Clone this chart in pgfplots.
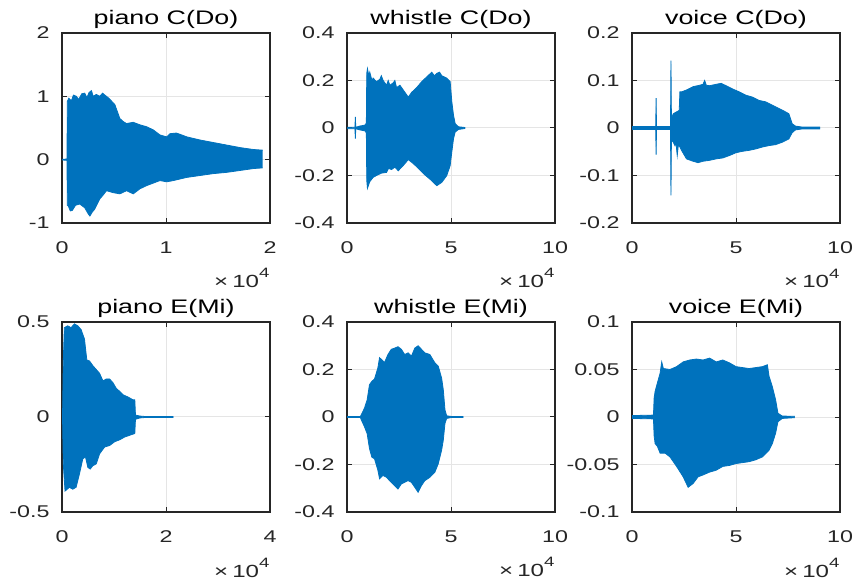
\documentclass[border=0pt]{standalone}
\usepackage{fontspec}
\setmainfont{Liberation Sans}
\usepackage{pgfplots}
\pgfplotsset{compat=1.18}
\usepgfplotslibrary{fillbetween}
\definecolor{mblue}{RGB}{0,114,189}

\pgfplotsset{
  every axis title shift=0pt,
  mat/.style={
    scale only axis, width=104pt, height=95pt, anchor=north west,
    axis line style={black!85, line width=0.6pt},
    tick style={black!85, line width=0.5pt},
    major tick length=2.5pt, tick align=inside,
    grid=major, major grid style={black!10, line width=0.5pt},
    scaled x ticks=false, scaled y ticks=false,
    /pgf/number format/assume math mode=true,
    ticklabel style={font=\fontsize{8.5}{10}\selectfont, text=black!85, xscale=1.37},
    xticklabel style={yshift=-6pt},
    yticklabel style={xshift=-1pt},
    title style={font=\fontsize{9.8}{12}\selectfont, xscale=1.37, at={(0.5,1)}, anchor=base, yshift=4.25pt},
    xlabel={×\,10\raisebox{5pt}{\fontsize{6.8}{8}\selectfont 4}},
    xlabel style={font=\fontsize{8.8}{10}\selectfont, xscale=1.37, text=black!85, at={(1,0)}, anchor=base east, yshift=-32.5pt, inner sep=0pt},
    xmin=0,
  },
  wave/.style={draw=mblue, line width=0.4pt, forget plot},
  wfill/.style={fill=mblue, draw=none, forget plot},
}

\begin{document}
\begin{tikzpicture}

% piano C
\begin{axis}[mat, at={(31pt,272.5pt)}, title={piano C(Do)},
  xmax=20000, xtick={0,10000,20000}, xticklabels={0,1,2},
  ymin=-1, ymax=2, ytick={-1,0,1,2}, yticklabels={-1,0,1,2}]
\addplot[wave, name path=u] coordinates {(0,0.005) (480,0.01) (514,0.92) (650,0.97) (900,0.93) (1100,1.02) (1383,1.0) (1600,0.95) (1900,1.04) (2186,1.05) (2400,0.98) (2600,1.06) (2830,1.09) (3000,1.0) (3300,1.03) (3633,1.0) (3900,1.05) (4116,1.02) (4500,0.97) (5080,0.87) (5563,0.65) (5900,0.6) (6206,0.57) (6849,0.59) (7492,0.55) (8135,0.52) (8778,0.47) (9421,0.39) (10064,0.36) (10386,0.41) (11000,0.42) (11350,0.40) (11994,0.36) (13280,0.31) (14566,0.27) (15852,0.23) (17138,0.19) (18424,0.16) (19293,0.15)};
\addplot[wave, name path=l] coordinates {(0,-0.005) (480,-0.01) (514,-0.72) (600,-0.73) (800,-0.81) (1000,-0.80) (1300,-0.72) (1700,-0.70) (2186,-0.76) (2500,-0.85) (2680,-0.89) (2900,-0.83) (3150,-0.78) (3633,-0.62) (4000,-0.55) (4277,-0.49) (4900,-0.52) (5563,-0.54) (6206,-0.49) (6849,-0.54) (7492,-0.46) (8135,-0.41) (8778,-0.37) (9421,-0.33) (10064,-0.35) (10707,-0.33) (11994,-0.28) (13280,-0.25) (14566,-0.22) (15852,-0.20) (17138,-0.17) (18424,-0.14) (19293,-0.13)};
\addplot[wfill] fill between[of=u and l];
\end{axis}

% whistle C
\begin{axis}[mat, at={(173.5pt,272.5pt)}, title={whistle C(Do)},
  xmax=100000, xtick={0,50000,100000}, xticklabels={0,5,10},
  ymin=-0.4, ymax=0.4, ytick={-0.4,-0.2,0,0.2,0.4}, yticklabels={-0.4,-0.2,0,0.2,0.4}]
\addplot[wave, name path=u] coordinates {(0,0.003) (3800,0.003) (4026,0.047) (4200,0.003) (6119,0.008) (8535,0.012) (9300,0.02) (9500,0.23) (9823,0.25) (10500,0.22) (10950,0.235) (12000,0.2) (12560,0.21) (14171,0.195) (15781,0.205) (16500,0.22) (17391,0.2) (19002,0.18) (19800,0.2) (20612,0.18) (22222,0.19) (23000,0.2) (23833,0.17) (25443,0.18) (27053,0.16) (29469,0.13) (31079,0.15) (33494,0.17) (35910,0.195) (38325,0.215) (40741,0.235) (42000,0.22) (43156,0.23) (44500,0.235) (45572,0.22) (47987,0.21) (49597,0.195) (50403,0.11) (51208,0.054) (52013,0.018) (53623,0.005) (56844,0.002)};
\addplot[wave, name path=l] coordinates {(0,-0.003) (3800,-0.003) (4026,-0.045) (4200,-0.003) (6119,-0.008) (8535,-0.012) (9300,-0.02) (9500,-0.22) (9823,-0.254) (10950,-0.226) (12560,-0.208) (14171,-0.2) (16586,-0.19) (19002,-0.187) (20000,-0.17) (21417,-0.175) (23000,-0.165) (24638,-0.18) (27053,-0.158) (29469,-0.133) (31884,-0.15) (34300,-0.17) (37520,-0.198) (40741,-0.222) (43156,-0.243) (45572,-0.229) (47987,-0.2) (49597,-0.158) (50403,-0.1) (51208,-0.045) (52013,-0.017) (53623,-0.006) (56844,-0.002)};
\addplot[wfill] fill between[of=u and l];
\end{axis}

% voice C
\begin{axis}[mat, at={(316pt,272.5pt)}, title={voice C(Do)},
  xmax=100000, xtick={0,50000,100000}, xticklabels={0,5,10},
  ymin=-0.2, ymax=0.2, ytick={-0.2,-0.1,0,0.1,0.2}, yticklabels={-0.2,-0.1,0,0.1,0.2}]
\addplot[wave, name path=u] coordinates {(0,0.003) (11400,0.003) (11587,0.063) (11780,0.003) (18500,0.003) (18730,0.142) (18950,0.02) (19841,0.03) (21429,0.034) (22698,0.037) (23016,0.076) (23810,0.076) (26190,0.08) (29365,0.087) (32540,0.09) (34127,0.092) (34921,0.1) (35700,0.09) (37302,0.089) (40476,0.092) (42857,0.094) (45238,0.089) (48413,0.082) (51587,0.076) (54762,0.069) (57937,0.065) (61111,0.058) (64286,0.055) (67460,0.048) (70635,0.041) (73810,0.034) (75397,0.03) (76190,0.02) (76984,0.009) (78571,0.004) (81746,0.002) (90476,0.002)};
\addplot[wave, name path=l] coordinates {(0,-0.003) (11400,-0.003) (11587,-0.056) (11780,-0.003) (18500,-0.003) (18730,-0.142) (18950,-0.025) (19841,-0.03) (20635,-0.037) (21100,-0.03) (21746,-0.058) (22300,-0.035) (23016,-0.04) (23810,-0.047) (26190,-0.065) (29365,-0.07) (31746,-0.073) (34127,-0.07) (37302,-0.068) (40476,-0.065) (43651,-0.063) (46825,-0.058) (50000,-0.052) (53175,-0.049) (56349,-0.047) (59524,-0.044) (62698,-0.04) (65873,-0.037) (69048,-0.035) (72222,-0.03) (75397,-0.023) (76984,-0.01) (78571,-0.004) (81746,-0.002) (90476,-0.002)};
\addplot[wfill] fill between[of=u and l];
\end{axis}

% piano E
\begin{axis}[mat, at={(31pt,128pt)}, title={piano E(Mi)},
  xmax=40000, xtick={0,20000,40000}, xticklabels={0,2,4},
  ymin=-0.5, ymax=0.5, ytick={-0.5,0,0.5}, yticklabels={-0.5,0,0.5}]
\addplot[wave, name path=u] coordinates {(100,0.0) (258,0.3) (452,0.47) (1097,0.48) (1742,0.47) (2387,0.49) (3032,0.48) (3677,0.46) (4323,0.41) (4774,0.30) (5290,0.295) (5935,0.27) (6581,0.25) (7226,0.23) (7871,0.19) (8516,0.2) (9161,0.2) (9806,0.18) (10452,0.15) (11097,0.135) (11742,0.117) (12710,0.105) (13677,0.09) (14000,0.09) (14129,0.01) (14968,0.005) (16258,0.002) (21419,0.002)};
\addplot[wave, name path=l] coordinates {(100,0.0) (258,-0.25) (581,-0.39) (1419,-0.37) (2065,-0.38) (2710,-0.37) (3355,-0.3) (4000,-0.22) (4516,-0.21) (4968,-0.265) (5419,-0.274) (5935,-0.256) (6581,-0.247) (7226,-0.194) (8194,-0.158) (9161,-0.15) (10129,-0.13) (11097,-0.12) (12065,-0.105) (13032,-0.096) (14000,-0.087) (14129,-0.012) (14968,-0.005) (16258,-0.002) (21419,-0.002)};
\addplot[wfill] fill between[of=u and l];
\end{axis}

% whistle E
\begin{axis}[mat, at={(173.5pt,128pt)}, title={whistle E(Mi)},
  xmax=100000, xtick={0,50000,100000}, xticklabels={0,5,10},
  ymin=-0.4, ymax=0.4, ytick={-0.4,-0.2,0,0.2,0.4}, yticklabels={-0.4,-0.2,0,0.2,0.4}]
\addplot[wave, name path=u] coordinates {(0,0.002) (6452,0.002) (6774,0.008) (8387,0.037) (9677,0.072) (10806,0.136) (11935,0.15) (13226,0.16) (14839,0.207) (15645,0.25) (16452,0.243) (18065,0.23) (19677,0.263) (21290,0.285) (22903,0.29) (24516,0.296) (26129,0.285) (27742,0.263) (29355,0.27) (30968,0.256) (32581,0.29) (34194,0.3) (35806,0.285) (37419,0.27) (39839,0.263) (42258,0.228) (43871,0.214) (45484,0.164) (46290,0.115) (47097,0.03) (47903,0.005) (50323,0.002) (55968,0.002)};
\addplot[wave, name path=l] coordinates {(0,-0.002) (6452,-0.002) (6774,-0.01) (8387,-0.041) (9677,-0.07) (10806,-0.133) (11935,-0.169) (13226,-0.176) (14839,-0.224) (15645,-0.26) (17258,-0.246) (18871,-0.253) (20484,-0.268) (22097,-0.282) (24516,-0.303) (26129,-0.282) (27742,-0.275) (29355,-0.268) (30968,-0.275) (32581,-0.296) (34194,-0.317) (35806,-0.289) (37419,-0.268) (39839,-0.254) (42258,-0.232) (43871,-0.197) (45484,-0.14) (46290,-0.098) (47097,-0.027) (47903,-0.006) (50323,-0.002) (55968,-0.002)};
\addplot[wfill] fill between[of=u and l];
\end{axis}

% voice E
\begin{axis}[mat, at={(316pt,128pt)}, title={voice E(Mi)},
  xmax=100000, xtick={0,50000,100000}, xticklabels={0,5,10},
  ymin=-0.1, ymax=0.1, ytick={-0.1,-0.05,0,0.05,0.1}, yticklabels={-0.1,-0.05,0,0.05,0.1}]
\addplot[wave, name path=u] coordinates {(0,0.0015) (10317,0.002) (10635,0.02) (11111,0.027) (12222,0.036) (13492,0.046) (14286,0.058) (15079,0.051) (18254,0.05) (21429,0.053) (24603,0.058) (27778,0.06) (30952,0.061) (34127,0.06) (37302,0.062) (40476,0.058) (43651,0.06) (46825,0.057) (50000,0.053) (53175,0.052) (56349,0.051) (59524,0.052) (62698,0.053) (65079,0.055) (65873,0.043) (67460,0.032) (69048,0.018) (70159,0.004) (72222,0.001) (78254,0.0007)};
\addplot[wave, name path=l] coordinates {(0,-0.0015) (10317,-0.002) (10635,-0.02) (11111,-0.028) (12222,-0.031) (13492,-0.038) (15873,-0.038) (18254,-0.042) (21429,-0.052) (24603,-0.063) (26984,-0.074) (29365,-0.07) (31746,-0.063) (34127,-0.061) (37302,-0.058) (40476,-0.056) (43651,-0.052) (46825,-0.051) (50000,-0.049) (53175,-0.048) (56349,-0.047) (59524,-0.045) (62698,-0.042) (65873,-0.035) (67460,-0.028) (69048,-0.017) (70159,-0.005) (72222,-0.0015) (78254,-0.0007)};
\addplot[wfill] fill between[of=u and l];
\end{axis}

\pgfresetboundingbox
\useasboundingbox (0,0) rectangle (427.5pt,289pt);
\end{tikzpicture}
\end{document}
